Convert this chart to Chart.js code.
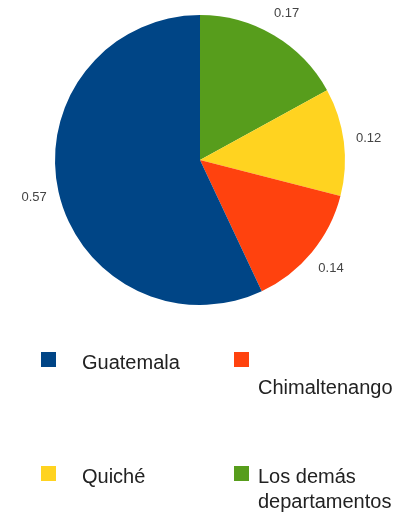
<!DOCTYPE html>
<html>
<head>
<meta charset="utf-8">
<script src="https://cdn.jsdelivr.net/npm/chart.js@4.4.1/dist/chart.umd.min.js"></script>
<style>
  html, body { margin: 0; padding: 0; background: #fff; }
  canvas { display: block; }
</style>
</head>
<body>
<canvas id="pieChart" width="403" height="518"></canvas>
<script>
// data, in legend order
const categories = ["Guatemala", "Chimaltenango", "Quiché", "Los demás departamentos"];
const shares = [0.57, 0.14, 0.12, 0.17];
const colors = ["#004586", "#ff420e", "#ffd320", "#579d1c"];

// slices go clockwise from 12 o'clock in reverse legend order
const pieLabels = categories.slice().reverse();
const pieValues = shares.slice().reverse();
const pieColors = colors.slice().reverse();

const FONT = "'Liberation Sans', Arial, sans-serif";

// value labels just outside each slice
const valueLabels = {
    id: 'valueLabels',
    afterDatasetsDraw(chart) {
        const ctx = chart.ctx;
        const meta = chart.getDatasetMeta(0);
        ctx.save();
        ctx.font = "13px " + FONT;
        ctx.fillStyle = "#444";
        ctx.textAlign = "center";
        ctx.textBaseline = "middle";
        meta.data.forEach(function (arc, i) {
            const p = arc.getProps(['x', 'y', 'startAngle', 'endAngle', 'outerRadius'], true);
            const mid = (p.startAngle + p.endAngle) / 2;
            const r = p.outerRadius + 25;
            const v = chart.data.datasets[0].data[i];
            ctx.fillText(v.toFixed(2), p.x + Math.cos(mid) * r, p.y + Math.sin(mid) * r);
        });
        ctx.restore();
    }
};

// two-column legend below the pie, with simple word wrapping
const gridLegend = {
    id: 'gridLegend',
    afterDraw(chart) {
        const ctx = chart.ctx;
        const cols = [{ box: 41, text: 82 }, { box: 234, text: 258 }];
        const rows = [352, 466];
        const maxWidth = 125;
        const lineHeight = 25;
        ctx.save();
        ctx.font = "20px " + FONT;
        ctx.textBaseline = "alphabetic";
        categories.forEach(function (name, i) {
            const col = cols[i % 2];
            const top = rows[Math.floor(i / 2)];
            ctx.fillStyle = colors[i];
            ctx.fillRect(col.box, top, 15, 15);

            // greedy wrap; a first word too wide drops to the next line
            const lines = [''];
            name.split(' ').forEach(function (word) {
                const cur = lines[lines.length - 1];
                const test = cur ? cur + ' ' + word : word;
                if (ctx.measureText(test).width <= maxWidth) {
                    lines[lines.length - 1] = test;
                } else {
                    lines.push(word);
                }
            });
            ctx.fillStyle = "#222";
            lines.forEach(function (line, k) {
                ctx.fillText(line, col.text, top + 17 + k * lineHeight);
            });
        });
        ctx.restore();
    }
};

function createChart(id, config) {
    const el = document.getElementById(id);
    if (!el) {
        console.error(`Canvas element with id '${id}' not found`);
        return;
    }
    if (el.chart) {
        el.chart.destroy();
    }
    el.chart = new Chart(el, config);
}

createChart("pieChart", {
    type: "pie",
    data: {
        labels: pieLabels,
        datasets: [{
            data: pieValues,
            backgroundColor: pieColors,
            borderWidth: 0,
        }],
    },
    options: {
        responsive: false,
        animation: false,
        layout: { padding: { top: 15, left: 55, right: 58, bottom: 213 } },
        plugins: {
            legend: { display: false },
            tooltip: { enabled: false },
        },
    },
    plugins: [valueLabels, gridLegend],
});
</script>
</body>
</html>
